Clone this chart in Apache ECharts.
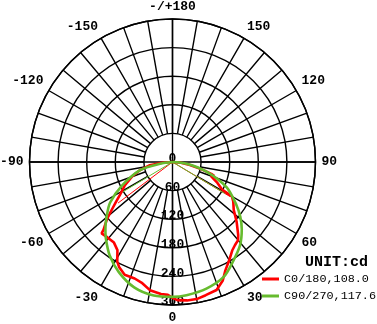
<!DOCTYPE html>
<html>
<head>
<meta charset="utf-8">
<script src="https://cdn.jsdelivr.net/npm/echarts@6/dist/echarts.min.js"></script>
<style>html,body{margin:0;padding:0;background:#fff;}#c{width:377px;height:324px;}</style>
</head>
<body>
<div id="c"></div>
<script>
// C0/180 plane: signed angle (deg, 0 = down, + = right) and intensity (cd)
var redAngles = [90, 85, 80, 76, 73, 71.5, 70, 65, 61, 60, 57, 52, 47, 42, 40, 37, 34, 30, 26, 23, 19, 14, 10, 6, 2, 0, -2, -5, -10, -14, -18, -23, -27, -29, -32, -36, -41, -44.8, -45.5, -49, -52, -55, -58, -64, -70, -76, -82, -86, -90];
var redValues = [0, 18, 37, 62, 85, 92, 86, 104, 119, 144, 152, 163, 184, 206, 214, 218, 224, 238, 253, 270, 284, 288, 292, 292, 290, 285, 279, 278, 273, 262, 257, 257, 247, 239, 218, 209, 209, 211, 203, 182, 161, 144, 130, 111, 91, 70, 48, 22, 0];
// C90/270 plane
var greenAngles = [90, 83, 74, 65, 56, 51, 46, 39, 31, 24, 15, 6, 0, -8, -17, -26, -34, -41, -45, -51, -57, -65, -76, -82, -90];
var greenValues = [0, 30, 75, 125, 162, 183, 202, 225, 245, 264, 275, 281, 283, 283, 275, 257, 236, 213, 199, 177, 156, 117, 70, 26, 0];
// thin guide rays from the centre: [angle, value]
var redRays = [[59, 141], [-53, 143]];
var greenRays = [[59, 128], [-59, 128]];
var seriesNames = ['C0/180,108.0', 'C90/270,117.6'];
var unitText = 'UNIT:cd';
var radialTicks = [0, 60, 120, 180, 240, 300];
var angleLabelStep = 30;

function toPolar(angles, values) {
  return angles.map(function (a, i) { return [values[i], a < 0 ? a + 360 : a]; });
}
function rayData(r) {
  var a = r[0] < 0 ? r[0] + 360 : r[0];
  return [[0, a], [r[1], a]];
}
var C = [172.5, 162], R = 143;
var monoFont = '"Liberation Mono", "DejaVu Sans Mono", monospace';
var RED = '#ff0000', GREEN = '#66bb2e';

function angleLabel(v) {
  if (v % angleLabelStep !== 0 || v >= 360) return '';
  if (v === 180) return '-/+180';
  return v < 180 ? String(v) : String(v - 360);
}

var chart = echarts.init(document.getElementById('c'));
var thinSeries = [];
redRays.forEach(function (r) {
  thinSeries.push({ type: 'line', coordinateSystem: 'polar', polarIndex: 0, data: rayData(r), symbol: 'none', silent: true,
    lineStyle: { color: RED, width: 1 }, z: 3 });
});
greenRays.forEach(function (r) {
  thinSeries.push({ type: 'line', coordinateSystem: 'polar', polarIndex: 0, data: rayData(r), symbol: 'none', silent: true,
    lineStyle: { color: GREEN, width: 1 }, z: 3 });
});

chart.setOption({
  animation: false,
  title: { text: unitText, left: 300, top: 250, textStyle: { fontFamily: monoFont, fontSize: 15, fontWeight: 'bold', color: '#000' } },
  legend: {
    left: 262, top: 273, padding: 0, orient: 'vertical', itemWidth: 17, itemHeight: 3, itemGap: 5, icon: 'rect',
    textStyle: { fontFamily: monoFont, fontSize: 11.8, color: '#000' },
    data: seriesNames
  },
  polar: [
    { center: C, radius: R },
    { center: C, radius: [R * 60 / 300, R] }
  ],
  angleAxis: [
    { polarIndex: 0, type: 'value', min: 0, max: 360, interval: 90, startAngle: 270, clockwise: false,
      axisLine: { show: true, lineStyle: { color: '#000', width: 1.4 } }, axisTick: { show: false }, axisLabel: { show: false },
      splitLine: { show: true, lineStyle: { color: '#000', width: 1.4 } } },
    { polarIndex: 1, type: 'value', min: 0, max: 360, interval: 10, startAngle: 270, clockwise: false,
      axisLine: { show: false }, axisTick: { show: false },
      axisLabel: { show: true, margin: 6, formatter: angleLabel, fontFamily: monoFont, fontSize: 13, fontWeight: 'bold', color: '#000' },
      splitLine: { show: true, lineStyle: { color: '#000', width: 1.4 } } }
  ],
  radiusAxis: [
    { polarIndex: 0, type: 'value', min: 0, max: 300, interval: 60,
      axisLine: { show: false }, axisTick: { show: false },
      axisLabel: { show: true, margin: 0, align: 'center', verticalAlign: 'middle',
        formatter: function (v) { return '{a|' + v + '}'; },
        rich: { a: { fontFamily: monoFont, fontSize: 13, fontWeight: 'bold', color: '#000', padding: [0, 0, 6, 0] } } },
      splitLine: { show: true, lineStyle: { color: '#000', width: 1.4 } } },
    { polarIndex: 1, type: 'value', min: 0, max: 1, show: false, axisLabel: { show: false }, splitLine: { show: false } }
  ],
  series: thinSeries.concat([
    { name: seriesNames[0], type: 'line', coordinateSystem: 'polar', polarIndex: 0, data: toPolar(redAngles, redValues),
      symbol: 'none', lineStyle: { color: RED, width: 2.6 }, itemStyle: { color: RED }, z: 4 },
    { name: seriesNames[1], type: 'line', coordinateSystem: 'polar', polarIndex: 0, data: toPolar(greenAngles, greenValues),
      symbol: 'none', smooth: 0.3, lineStyle: { color: GREEN, width: 2.6 }, itemStyle: { color: GREEN }, z: 5 }
  ])
});
</script>
</body>
</html>
